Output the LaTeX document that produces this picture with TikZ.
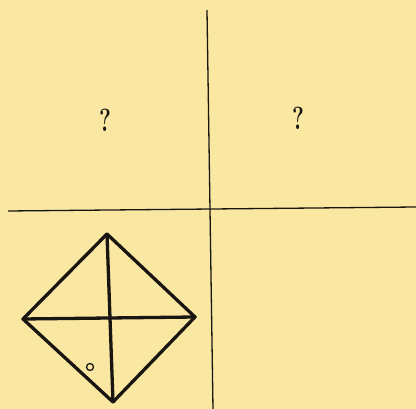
\documentclass[tikz,border=0pt]{standalone}
\definecolor{paper}{RGB}{249,231,162}
\definecolor{ink}{RGB}{25,22,18}
\begin{document}
\begin{tikzpicture}[x=1pt,y=-1pt,
  grid/.style={draw=ink,line width=1.3pt},
  edge/.style={draw=ink,line width=3.3pt,line cap=round,line join=round},
  qmark/.style={text=ink,font=\fontsize{32}{32}\selectfont\bfseries,xscale=0.7,inner sep=0pt}]
\fill[paper] (0,0) rectangle (416,409);
\useasboundingbox (0,0) rectangle (416,409);
% grid
\coordinate (vt) at (207,10);
\coordinate (vb) at (213,409);
\coordinate (hl) at (8,211);
\coordinate (hr) at (416,207);
\draw[grid] (vt) -- (vb);
\draw[grid] (hl) -- (hr);
% question marks
\node[qmark] (q1) at (105,120) {?};
\node[qmark] (q2) at (298,118) {?};
% diamond
\coordinate (T) at (107,234);
\coordinate (L) at (23,319);
\coordinate (R) at (195,317);
\coordinate (B) at (113,402);
\draw[edge] (T) -- (R) -- (B) -- (L) -- cycle;
\draw[edge] (T) -- (B);
\draw[edge] (L) -- (R);
\node[draw=ink,line width=1.3pt,circle,minimum size=7pt,inner sep=0pt] (o) at (90,367) {};
\end{tikzpicture}
\end{document}
